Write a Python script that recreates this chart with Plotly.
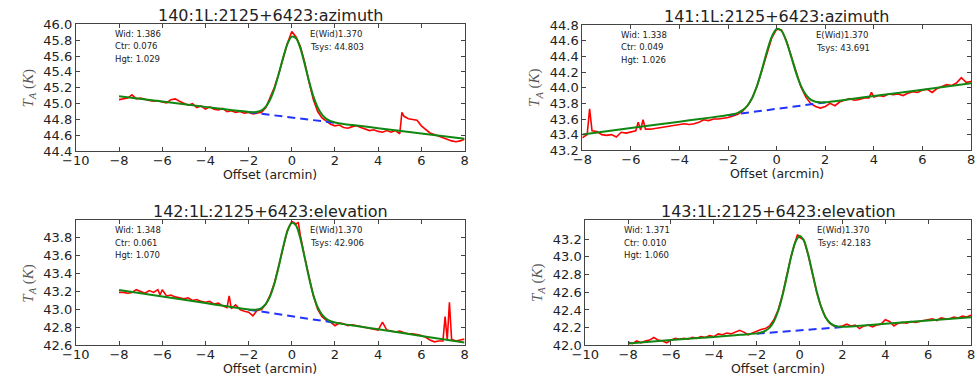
import plotly.graph_objects as go

W, H = 976, 389

# ---------------- data ----------------
panel_titles = ["140:1L:2125+6423:azimuth", "141:1L:2125+6423:azimuth",
                "142:1L:2125+6423:elevation", "143:1L:2125+6423:elevation"]
fit_wid = [1.386, 1.338, 1.348, 1.371]
fit_ctr = [0.076, 0.049, 0.061, 0.010]
fit_hgt = [1.029, 1.026, 1.070, 1.060]
expected_wid = [1.370, 1.370, 1.370, 1.370]
tsys = [44.803, 43.691, 42.906, 42.183]

offset_grid = [-8.0, -7.8, -7.6, -7.4, -7.2, -7.0, -6.8, -6.6, -6.4, -6.2,
               -6.0, -5.8, -5.6, -5.4, -5.2, -5.0, -4.8, -4.6, -4.4, -4.2,
               -4.0, -3.8, -3.6, -3.4, -3.2, -3.0, -2.8, -2.6, -2.4, -2.2,
               -2.0, -1.8, -1.6, -1.4, -1.2, -1.0, -0.8, -0.6, -0.4, -0.2,
               0.0, 0.2, 0.4, 0.6, 0.8, 1.0, 1.2, 1.4, 1.6, 1.8,
               2.0, 2.2, 2.4, 2.6, 2.8, 3.0, 3.2, 3.4, 3.6, 3.8,
               4.0, 4.2, 4.4, 4.6, 4.8, 5.0, 5.2, 5.4, 5.6, 5.8,
               6.0, 6.2, 6.4, 6.6, 6.8, 7.0, 7.2, 7.4, 7.6, 7.8,
               8.0]

data_140 = [45.05, 45.06, 45.07, 45.11, 45.06, 45.07, 45.05, 45.04, 45.03, 45.04,
            45.02, 45.01, 45.05, 45.06, 45.03, 45.01, 44.98, 45.00, 44.95, 44.97,
            44.93, 44.96, 44.93, 44.92, 44.94, 44.90, 44.91, 44.89, 44.90, 44.88,
            44.89, 44.87, 44.88, 44.89, 44.95, 45.07, 45.21, 45.38, 45.58, 45.76,
            45.91, 45.84, 45.72, 45.52, 45.27, 45.05, 44.90, 44.82, 44.78, 44.74,
            44.72, 44.73, 44.70, 44.69, 44.71, 44.72, 44.70, 44.68, 44.66, 44.67,
            44.65, 44.64, 44.66, 44.64, 44.66, 44.62, 44.84, 44.81, 44.80, 44.79,
            44.72, 44.67, 44.63, 44.61, 44.59, 44.57, 44.55, 44.53, 44.52, 44.53,
            44.55]
extra_x_140 = [5.1]
extra_y_140 = [44.89]

data_141 = [43.36, 43.40, 43.45, 43.44, 43.40, 43.39, 43.40, 43.37, 43.43, 43.42,
            43.44, 43.45, 43.46, 43.47, 43.47, 43.48, 43.49, 43.50, 43.51, 43.52,
            43.53, 43.54, 43.53, 43.54, 43.56, 43.59, 43.58, 43.60, 43.60, 43.61,
            43.62, 43.64, 43.66, 43.70, 43.77, 43.87, 44.03, 44.23, 44.45, 44.64,
            44.75, 44.74, 44.60, 44.41, 44.19, 44.01, 43.88, 43.80, 43.76, 43.74,
            43.76, 43.80, 43.77, 43.82, 43.84, 43.86, 43.84, 43.85, 43.87, 43.87,
            43.88, 43.90, 43.89, 43.92, 43.91, 43.92, 43.90, 43.93, 43.95, 43.94,
            43.97, 43.98, 43.94, 43.99, 44.02, 44.04, 44.03, 44.06, 44.13, 44.07,
            44.08]
extra_x_141 = [-7.7, -5.7, -5.5, 3.9]
extra_y_141 = [43.73, 43.56, 43.59, 43.94]

data_142 = [43.19, 43.19, 43.18, 43.19, 43.22, 43.20, 43.18, 43.21, 43.19, 43.22,
            43.22, 43.15, 43.16, 43.14, 43.13, 43.12, 43.13, 43.10, 43.11, 43.09,
            43.08, 43.09, 43.06, 43.07, 43.04, 43.02, 43.01, 43.05, 43.00, 42.98,
            42.97, 42.93, 42.99, 43.00, 43.06, 43.16, 43.30, 43.49, 43.70, 43.88,
            43.98, 43.95, 43.82, 43.58, 43.35, 43.15, 43.00, 42.92, 42.88, 42.86,
            42.82, 42.85, 42.84, 42.82, 42.83, 42.82, 42.81, 42.80, 42.79, 42.78,
            42.77, 42.86, 42.77, 42.76, 42.75, 42.76, 42.74, 42.73, 42.73, 42.72,
            42.71, 42.69, 42.66, 42.64, 42.65, 42.65, 42.66, 42.67, 42.65, 42.66,
            42.67]
extra_x_142 = [-6.1, -2.9, 0.3, 7.1, 7.3]
extra_y_142 = [43.16, 43.15, 43.97, 42.92, 43.08]

data_143 = [42.04, 42.02, 42.05, 42.03, 42.05, 42.06, 42.09, 42.06, 42.05, 42.03,
            42.06, 42.08, 42.07, 42.08, 42.07, 42.09, 42.08, 42.10, 42.09, 42.11,
            42.10, 42.13, 42.12, 42.14, 42.13, 42.15, 42.17, 42.15, 42.12, 42.14,
            42.16, 42.18, 42.19, 42.22, 42.29, 42.40, 42.57, 42.78, 43.00, 43.17,
            43.22, 43.19, 43.02, 42.82, 42.60, 42.44, 42.32, 42.25, 42.22, 42.21,
            42.22, 42.24, 42.22, 42.23, 42.19, 42.22, 42.23, 42.21, 42.23, 42.24,
            42.29, 42.27, 42.22, 42.25, 42.26, 42.25, 42.27, 42.26, 42.27, 42.28,
            42.29, 42.30, 42.28, 42.31, 42.30, 42.30, 42.32, 42.31, 42.33, 42.32,
            42.34]
extra_x_143 = [-0.1]
extra_y_143 = [43.25]

fit_offsets = [-8.0, -6.0, -4.0, -3.0, -2.4, -2.0, -1.8, -1.6, -1.4, -1.2, -1.0,
               -0.8, -0.6, -0.4, -0.2, 0.0, 0.2, 0.4, 0.6, 0.8, 1.0, 1.2, 1.4,
               1.6, 1.8, 2.0, 2.4, 3.0, 4.0, 6.0, 8.0]
fit_140 = [45.094, 45.027, 44.959, 44.926, 44.906, 44.894, 44.891, 44.897, 44.916, 44.963,
           45.052, 45.192, 45.377, 45.580, 45.754, 45.845, 45.824, 45.696, 45.497, 45.281,
           45.091, 44.951, 44.860, 44.807, 44.779, 44.763, 44.744, 44.724, 44.691, 44.623,
           44.556]
fit_141 = [43.402, 43.484, 43.566, 43.607, 43.632, 43.650, 43.661, 43.679, 43.713, 43.773,
           43.876, 44.033, 44.240, 44.465, 44.654, 44.752, 44.728, 44.594, 44.396, 44.191,
           44.024, 43.911, 43.848, 43.821, 43.813, 43.815, 43.828, 43.853, 43.894, 43.976,
           44.058]
fit_142 = [43.217, 43.144, 43.071, 43.035, 43.013, 43.000, 42.996, 42.999, 43.016, 43.061,
           43.149, 43.291, 43.483, 43.695, 43.874, 43.964, 43.933, 43.787, 43.574, 43.350,
           43.161, 43.025, 42.942, 42.895, 42.869, 42.855, 42.837, 42.816, 42.779, 42.706,
           42.633]
fit_143 = [42.023, 42.060, 42.096, 42.115, 42.126, 42.136, 42.145, 42.164, 42.201, 42.271,
           42.388, 42.560, 42.774, 42.994, 43.164, 43.235, 43.184, 43.028, 42.818, 42.609,
           42.439, 42.324, 42.258, 42.225, 42.212, 42.210, 42.214, 42.225, 42.244, 42.280,
           42.317]

baseline_offsets = [-2.0, 2.0]
baseline_140 = [44.892, 44.758]
baseline_141 = [43.648, 43.812]
baseline_142 = [42.998, 42.852]
baseline_143 = [42.133, 42.207]

x_ranges = [[-10, 8], [-8, 8], [-10, 8], [-10, 8]]
y_ranges = [[44.4, 46.0], [43.2, 44.8], [42.6, 43.99], [42.0, 43.41]]
y_ticks_140 = [44.4, 44.6, 44.8, 45.0, 45.2, 45.4, 45.6, 45.8, 46.0]
y_ticks_141 = [43.2, 43.4, 43.6, 43.8, 44.0, 44.2, 44.4, 44.6, 44.8]
y_ticks_142 = [42.6, 42.8, 43.0, 43.2, 43.4, 43.6, 43.8]
y_ticks_143 = [42.0, 42.2, 42.4, 42.6, 42.8, 43.0, 43.2]
x_ticks = [-10, -8, -6, -4, -2, 0, 2, 4, 6, 8]

# ---------------- layout helpers ----------------
boxes = [(63, 18, 459, 150), (579, 19, 975, 149), (63, 222, 459, 352), (582, 222, 975, 352)]

def px(xp):
    return min(xp / W, 1.0)

def py(yp):
    return 1 - yp / H

datas = [(data_140, extra_x_140, extra_y_140), (data_141, extra_x_141, extra_y_141),
         (data_142, extra_x_142, extra_y_142), (data_143, extra_x_143, extra_y_143)]
fits = [fit_140, fit_141, fit_142, fit_143]
baselines = [baseline_140, baseline_141, baseline_142, baseline_143]
y_ticks = [y_ticks_140, y_ticks_141, y_ticks_142, y_ticks_143]

FONT = "DejaVu Sans"
AXC = "#444444"
TXT = "#222222"

fig = go.Figure()
annotations = []
layout = dict(width=W, height=H, margin=dict(l=0, r=0, t=0, b=0),
              paper_bgcolor="white", plot_bgcolor="white", showlegend=False,
              font=dict(family=FONT, color=TXT))

for i in range(4):
    n = "" if i == 0 else str(i + 1)
    xa, ya = "x" + n, "y" + n
    l, t, r, b = boxes[i]
    ys, ex, ey = datas[i]
    pts = sorted(list(zip(offset_grid, ys)) + list(zip(ex, ey)))
    fig.add_trace(go.Scatter(x=[p[0] for p in pts], y=[p[1] for p in pts], mode="lines",
                             line=dict(color="#ff0000", width=1.6), xaxis=xa, yaxis=ya,
                             hoverinfo="skip"))
    fig.add_trace(go.Scatter(x=baseline_offsets, y=baselines[i], mode="lines",
                             line=dict(color="#2233ff", width=2, dash="8px,5px"),
                             xaxis=xa, yaxis=ya, hoverinfo="skip"))
    fig.add_trace(go.Scatter(x=fit_offsets, y=fits[i], mode="lines",
                             line=dict(color="#118811", width=2, shape="spline", smoothing=0.8),
                             xaxis=xa, yaxis=ya, hoverinfo="skip"))
    common = dict(showline=True, linecolor=AXC, linewidth=1, mirror="ticks",
                  ticks="inside", ticklen=4, tickcolor=AXC, tickwidth=1,
                  showgrid=False, zeroline=False, fixedrange=True,
                  tickfont=dict(family=FONT, size=13, color=TXT))
    layout["xaxis" + n] = dict(common, domain=[px(l), px(r)], range=x_ranges[i],
                               anchor=ya, tickmode="array", tickvals=x_ticks,
                               ticklabelstandoff=-3)
    layout["yaxis" + n] = dict(common, domain=[py(b), py(t)], range=y_ranges[i],
                               anchor=xa, tickmode="array", tickvals=y_ticks[i],
                               tickformat=".1f")
    w = r - l
    cx = (l + r) / 2
    # title
    annotations.append(dict(text=panel_titles[i], x=px(cx), y=py(t - 9), xref="paper", yref="paper",
                            xanchor="center", yanchor="middle", showarrow=False,
                            font=dict(family=FONT, size=16, color=TXT)))
    # axis labels
    annotations.append(dict(text="Offset (arcmin)", x=px(cx), y=py(b + 24), xref="paper", yref="paper",
                            xanchor="center", yanchor="middle", showarrow=False,
                            font=dict(family=FONT, size=12.5, color=TXT)))
    annotations.append(dict(text="<i>T</i><sub><i>A</i></sub> (<i>K</i>)", x=px(l - 48), y=py((t + b) / 2),
                            xref="paper", yref="paper", xanchor="center", yanchor="middle",
                            textangle=-90, showarrow=False,
                            font=dict(family="Liberation Serif", size=15, color="#555555")))
    # fit info
    info_left = [("Wid: %.3f" % fit_wid[i], 10), ("Ctr: %.3f" % fit_ctr[i], 23),
                 ("Hgt: %.3f" % fit_hgt[i], 36)]
    for txt, dy in info_left:
        annotations.append(dict(text=txt, x=px(l + 0.095 * w), y=py(t + dy), xref="paper", yref="paper",
                                xanchor="left", yanchor="middle", showarrow=False,
                                font=dict(family=FONT, size=8.5, color=TXT)))
    info_right = [("E(Wid)%.3f" % expected_wid[i], 10), ("Tsys: %.3f" % tsys[i], 23.5)]
    for txt, dy in info_right:
        annotations.append(dict(text=txt, x=px(l + 0.596 * w), y=py(t + dy), xref="paper", yref="paper",
                                xanchor="left", yanchor="middle", showarrow=False,
                                font=dict(family=FONT, size=8.5, color=TXT)))

layout["annotations"] = annotations
fig.update_layout(**layout)
fig.write_html("out.html")
